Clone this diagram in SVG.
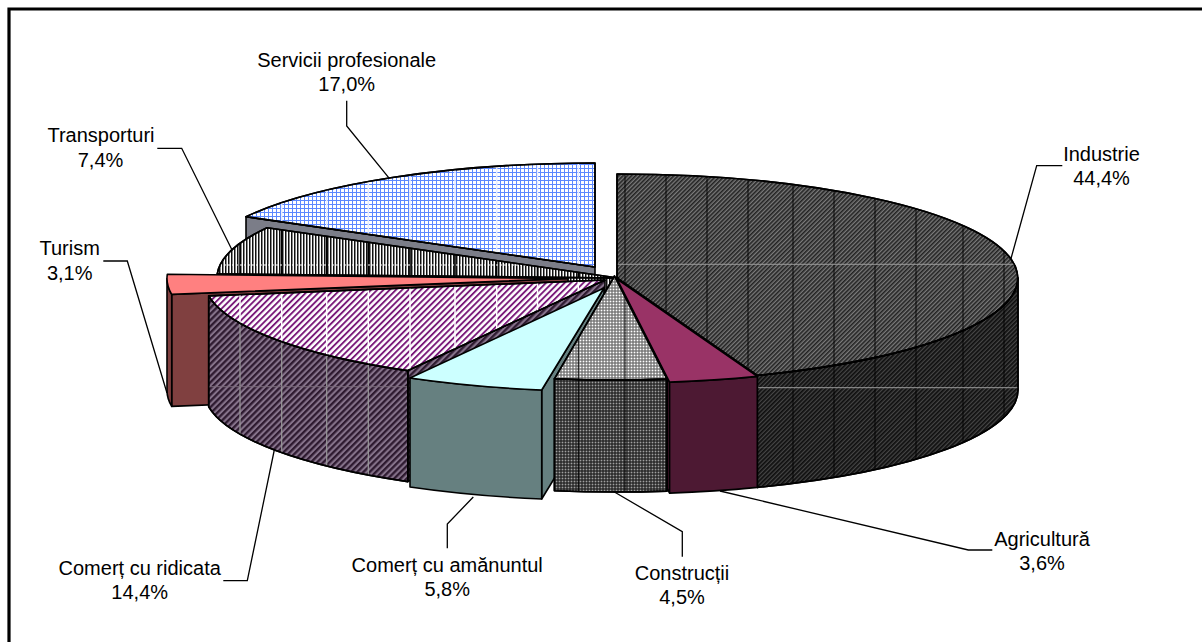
<svg xmlns="http://www.w3.org/2000/svg" xmlns:xlink="http://www.w3.org/1999/xlink" width="1202" height="642" viewBox="0 0 1202 642">
<defs>
<style>
.o{stroke:#000;stroke-width:1.6;stroke-linejoin:round}
.ld{fill:none;stroke:#000;stroke-width:1.3}
.sm{fill:none}
text{font-family:"Liberation Sans",Arial,sans-serif;font-size:20px;fill:#000;text-anchor:middle}
</style>
<pattern id="pIndT" width="3" height="3" patternUnits="userSpaceOnUse" patternTransform="rotate(45)"><rect width="3" height="3" fill="#7a7a7a"/><rect width="1.6" height="3" fill="#222"/></pattern>
<pattern id="pIndS" width="3" height="3" patternUnits="userSpaceOnUse" patternTransform="rotate(45)"><rect width="3" height="3" fill="#464646"/><rect width="1.7" height="3" fill="#0e0e0e"/></pattern>
<pattern id="pConT" width="3" height="3" patternUnits="userSpaceOnUse"><rect width="3" height="3" fill="#6a6a6a"/><rect x="0.6" y="0.6" width="1.8" height="1.8" fill="#fff"/></pattern>
<pattern id="pConS" width="3" height="3" patternUnits="userSpaceOnUse"><rect width="3" height="3" fill="#1c1c1c"/><rect x="0.6" y="0.6" width="1.8" height="1.8" fill="#a0a0a0"/></pattern>
<pattern id="pRidT" width="4.4" height="4.4" patternUnits="userSpaceOnUse" patternTransform="rotate(45)"><rect width="4.4" height="4.4" fill="#fff"/><rect width="1.9" height="4.4" fill="#7a1a7a"/></pattern>
<pattern id="pRidS" width="4.4" height="4.4" patternUnits="userSpaceOnUse" patternTransform="rotate(45)"><rect width="4.4" height="4.4" fill="#85728a"/><rect width="2.3" height="4.4" fill="#2e1a30"/></pattern>
<pattern id="pSerT" width="4" height="4" patternUnits="userSpaceOnUse"><rect width="4" height="4" fill="#fff"/><rect width="4" height="1" fill="#5c88ff"/><rect width="1" height="4" fill="#5c88ff"/></pattern>
<pattern id="pTrT" width="3" height="3" patternUnits="userSpaceOnUse"><rect width="3" height="3" fill="#fff"/><rect width="1.5" height="3" fill="#111"/></pattern>

<path id="serR" d="M595,267 L246,216.7 L246,328.7 L595,379 Z"/>
<path id="serT" d="M595,267 L246,216.7 A401,104 0 0,1 595,163 Z"/>
<path id="indR" d="M617,278 L757.3,375.4 L757.3,487.4 L617,390 Z"/>
<path id="indS" d="M1018,278 A401,104 0 0,1 757.3,375.4 L757.3,487.4 A401,104 0 0,0 1018,390 Z"/>
<path id="indT" d="M617,278 L617,174 A401,104 0 0,1 757.3,375.4 Z"/>
<path id="trR" d="M618,278 L217.3,273.8 L217.3,385.8 L618,390 Z"/>
<path id="trT" d="M618,278 L217.3,273.8 A401,104 0 0,1 267,227.7 Z"/>
<path id="tuR" d="M568,278.5 L171.7,294.4 L171.7,406.4 L568,390.5 Z"/>
<path id="tuS" d="M171.7,294.4 A401,104 0 0,1 167,278.5 L167,390.5 A401,104 0 0,0 171.7,406.4 Z"/>
<path id="tuT" d="M568,278.5 L171.7,294.4 A401,104 0 0,1 167.3,274.3 Z"/>
<path id="riR" d="M605,280 L407.8,370.6 L407.8,481.6 L605,391 Z"/>
<path id="riS" d="M407.8,370.6 A401,104 0 0,1 208.7,295.9 L208.7,406.9 A401,104 0 0,0 407.8,481.6 Z"/>
<path id="riT" d="M605,280 L407.8,370.6 A401,104 0 0,1 208.7,295.9 Z"/>
<path id="agR" d="M617,279 L669.6,382.1 L669.6,493.1 L617,390 Z"/>
<path id="agS" d="M757.3,376.4 A401,104 0 0,1 669.6,382.1 L669.6,493.1 A401,104 0 0,0 757.3,487.4 Z"/>
<path id="agT" d="M617,279 L757.3,376.4 A401,104 0 0,1 669.6,382.1 Z"/>
<path id="amR" d="M604,288 L541.7,390 L541.7,499 L604,397 Z"/>
<path id="amS" d="M541.7,390 A401,104 0 0,1 410,378 L410,487 A401,104 0 0,0 541.7,499 Z"/>
<path id="amT" d="M604,288 L541.7,390 A401,104 0 0,1 410,378 Z"/>
<path id="coS" d="M667.1,379.1 A401,104 0 0,1 554.4,378.8 L554.4,490.8 A401,104 0 0,0 667.1,491.1 Z"/>
<path id="coT" d="M614.5,276 L667.1,379.1 A401,104 0 0,1 554.4,378.8 Z"/>
<path id="seams" d="M240,150V510M281.7,150V510M326.7,150V510M368.3,150V510M410,150V510M455,150V510M496.7,150V510M537.5,150V510M578.3,150V510M625,150V510M666,150V510M707,150V510M748,150V510M793,150V510M834,150V510M875,150V510M916,150V510M963,150V510M1004,150V510"/>

<clipPath id="cSer"><use xlink:href="#serT"/></clipPath>
<clipPath id="cInd"><use xlink:href="#indT"/><use xlink:href="#indS"/></clipPath>
<clipPath id="cTr"><use xlink:href="#trT"/></clipPath>
<clipPath id="cRiT"><use xlink:href="#riT"/></clipPath>
<clipPath id="cRiS"><use xlink:href="#riS"/></clipPath>
<clipPath id="cCo"><use xlink:href="#coT"/><use xlink:href="#coS"/></clipPath>
</defs>

<rect width="1202" height="642" fill="#fff"/>
<path d="M9,642 V9 H1202" fill="none" stroke="#000" stroke-width="3.2"/>

<g id="servicii">
<use xlink:href="#serR" fill="#7b7d88" class="o"/>
<use xlink:href="#serT" fill="url(#pSerT)" class="o"/>
<g clip-path="url(#cSer)"><use xlink:href="#seams" class="sm" stroke="#e8eeff" stroke-width="1.5"/></g>
<use xlink:href="#serT" fill="none" class="o"/>
<text x="346.7" y="67">Servicii profesionale</text>
<text x="346.7" y="91">17,0%</text>
</g>

<g id="industrie">
<use xlink:href="#indR" fill="#333" class="o"/>
<use xlink:href="#indS" fill="url(#pIndS)" class="o"/>
<use xlink:href="#indT" fill="url(#pIndT)" class="o"/>
<g clip-path="url(#cInd)">
<use xlink:href="#seams" class="sm" stroke="#000" stroke-width="0.9"/>
<path d="M617,264.3H1020M757,387.7H1020" class="sm" stroke="#9a9a9a" stroke-width="1"/>
</g>
<use xlink:href="#indS" fill="none" class="o"/>
<use xlink:href="#indT" fill="none" class="o"/>
<text x="1101.5" y="160.7">Industrie</text>
<text x="1101.5" y="184.5">44,4%</text>
</g>

<g id="transporturi">
<use xlink:href="#trR" fill="url(#pTrT)" class="o"/>
<use xlink:href="#trT" fill="url(#pTrT)" class="o"/>
<g clip-path="url(#cTr)">
<use xlink:href="#seams" class="sm" stroke="#000" stroke-width="1.6"/>
<path d="M200,265H620" class="sm" stroke="#fff" stroke-width="1" stroke-dasharray="2 2"/>
</g>
<use xlink:href="#trT" fill="none" class="o"/>
<text x="101" y="142.3">Transporturi</text>
<text x="100.5" y="166.7">7,4%</text>
</g>

<g id="turism">
<use xlink:href="#tuR" fill="#804040" class="o"/>
<use xlink:href="#tuS" fill="#804040" class="o"/>
<use xlink:href="#tuT" fill="#ff8080" class="o"/>
<text x="69.7" y="255">Turism</text>
<text x="69.7" y="279.5">3,1%</text>
</g>

<g id="comert-ridicata">
<use xlink:href="#riR" fill="url(#pRidS)" class="o"/>
<use xlink:href="#riS" fill="url(#pRidS)" class="o"/>
<g clip-path="url(#cRiS)">
<use xlink:href="#seams" class="sm" stroke="#9a9a9a" stroke-width="1.2"/>
<path d="M200,386.7H410" class="sm" stroke="#7a6a7a" stroke-width="1"/>
</g>
<use xlink:href="#riS" fill="none" class="o"/>
<use xlink:href="#riT" fill="url(#pRidT)" class="o"/>
<g clip-path="url(#cRiT)"><use xlink:href="#seams" class="sm" stroke="#fff" stroke-width="1.5"/></g>
<use xlink:href="#riT" fill="none" class="o"/>
<text x="139.7" y="575">Comerț cu ridicata</text>
<text x="139.7" y="599.3">14,4%</text>
</g>

<g id="agricultura">
<use xlink:href="#agR" fill="#4d1933" class="o"/>
<use xlink:href="#agS" fill="#4d1933" class="o"/>
<use xlink:href="#agT" fill="#993366" class="o"/>
<text x="1042" y="545.7">Agricultură</text>
<text x="1042" y="569.5">3,6%</text>
</g>

<g id="comert-amanuntul">
<use xlink:href="#amR" fill="#668080" class="o"/>
<use xlink:href="#amS" fill="#668080" class="o"/>
<use xlink:href="#amT" fill="#ccffff" class="o"/>
<text x="447.2" y="571.5">Comerț cu amănuntul</text>
<text x="447.2" y="595.7">5,8%</text>
</g>

<g id="constructii">
<use xlink:href="#coS" fill="url(#pConS)" class="o"/>
<use xlink:href="#coT" fill="url(#pConT)" class="o"/>
<g clip-path="url(#cCo)"><use xlink:href="#seams" class="sm" stroke="#000" stroke-width="0.9"/></g>
<use xlink:href="#coS" fill="none" class="o"/>
<use xlink:href="#coT" fill="none" class="o"/>
<text x="682" y="580">Construcții</text>
<text x="682" y="604.3">4,5%</text>
</g>

<g id="connectors">
<path class="ld" d="M346.7,100.7 V126 L389.3,178.3"/>
<path class="ld" d="M157.3,148.3 H181.7 L232.3,250.5"/>
<path class="ld" d="M103.3,261 H127.3 L167,393"/>
<path class="ld" d="M223.3,580.7 H247.3 L274.3,450"/>
<path class="ld" d="M447.3,548.3 V524 L473.3,497"/>
<path class="ld" d="M682.3,556.7 V531.7 L612.7,491"/>
<path class="ld" d="M992.3,550 H968.3 L720,491"/>
<path class="ld" d="M1062.3,165.7 H1036.7 L1011,258.5"/>
</g>
</svg>
